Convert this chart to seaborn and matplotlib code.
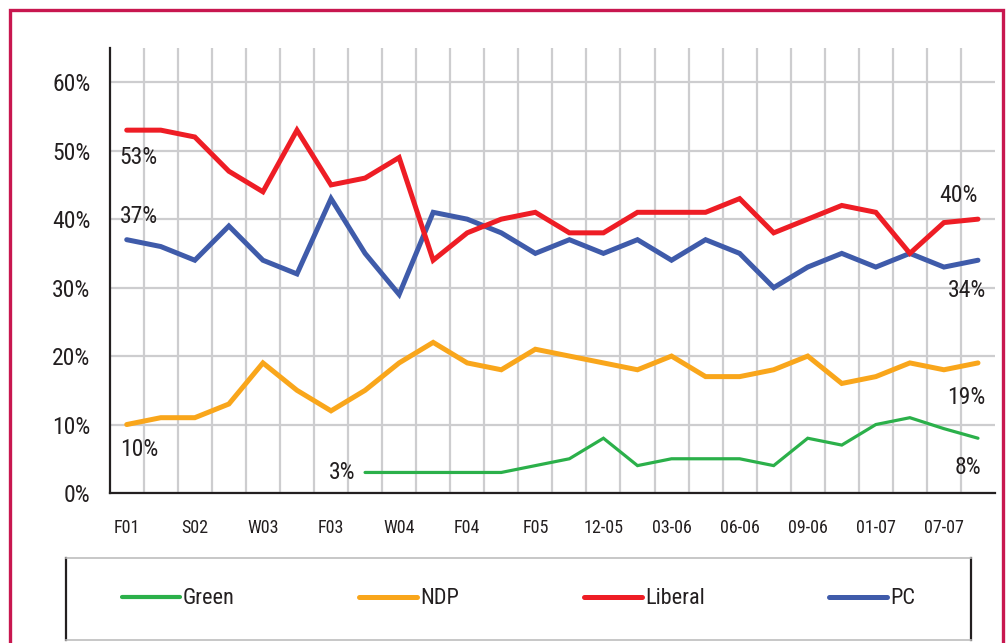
import numpy as np
import pandas as pd
import matplotlib
matplotlib.use("Agg")
import matplotlib.pyplot as plt
import seaborn as sns
from matplotlib.lines import Line2D
from matplotlib.patches import Rectangle

# ---- data ----
periods = ["F01", "", "S02", "", "W03", "", "F03", "", "W04", "", "F04", "", "F05", "",
           "12-05", "", "03-06", "", "06-06", "", "09-06", "", "01-07", "", "07-07", ""]
liberal = [53, 53, 52, 47, 44, 53, 45, 46, 49, 34, 38, 40, 41, 38, 38, 41, 41, 41, 43, 38, 40, 42, 41, 35, 39.5, 40]
pc      = [37, 36, 34, 39, 34, 32, 43, 35, 29, 41, 40, 38, 35, 37, 35, 37, 34, 37, 35, 30, 33, 35, 33, 35, 33, 34]
ndp     = [10, 11, 11, 13, 19, 15, 12, 15, 19, 22, 19, 18, 21, 20, 19, 18, 20, 17, 17, 18, 20, 16, 17, 19, 18, 19]
green   = [np.nan]*7 + [3, 3, 3, 3, 3, 4, 5, 8, 4, 5, 5, 5, 4, 8, 7, 10, 11, 9.4, 8]
yticks = [0, 10, 20, 30, 40, 50, 60]

series = {"Green": green, "NDP": ndp, "Liberal": liberal, "PC": pc}
colors = {"Green": "#2BB04A", "NDP": "#F9A61B", "Liberal": "#EE1D25", "PC": "#3F5BAA"}
widths = {"Green": 2.3, "NDP": 3.6, "Liberal": 3.6, "PC": 3.6}

rows = []
for name, vals in series.items():
    for i, v in enumerate(vals):
        rows.append({"idx": i, "party": name, "value": v})
df = pd.DataFrame(rows)

sns.set_theme(style="white")
plt.rcParams["font.family"] = ["Roboto Condensed", "Roboto", "DejaVu Sans"]

fig = plt.figure(figsize=(10.08, 6.43), dpi=100)
ax = fig.add_axes([109.7/1008, 1 - 493/643, (995 - 109.7)/1008, (493 - 48)/643])

for name in ["NDP", "Green", "PC", "Liberal"]:
    sub = df[df["party"] == name].dropna()
    sns.lineplot(data=sub, x="idx", y="value", ax=ax, color=colors[name],
                 linewidth=widths[name], solid_joinstyle="miter", solid_capstyle="round",
                 legend=False, zorder=3)

n = len(periods)
ax.set_xlim(-0.5, n - 0.5)
ax.set_ylim(0, 65)
ax.set_yticks(yticks)
ax.set_yticklabels([f"{v}%" for v in yticks])
ax.set_xticks(range(0, n, 2))
ax.set_xticklabels([periods[i] for i in range(0, n, 2)])
ax.set_xticks(np.arange(0.5, n - 1, 1), minor=True)
ax.grid(False)
ax.yaxis.grid(True, color="#CDCDCF", linewidth=1.6, zorder=0)
ax.xaxis.grid(True, which="minor", color="#CDCDCF", linewidth=1.6, zorder=0)
ax.set_axisbelow(True)
ax.tick_params(axis="y", length=0, pad=14, labelsize=17, labelcolor="#231F20")
ax.tick_params(axis="x", which="both", length=0, pad=19, labelsize=13, labelcolor="#231F20")
ax.set_xlabel("")
ax.set_ylabel("")
for s in ["top", "right"]:
    ax.spines[s].set_visible(False)
for s in ["left", "bottom"]:
    ax.spines[s].set_color("#231F20")
    ax.spines[s].set_linewidth(1.6)

# data labels
lab_kw = dict(textcoords="offset points", fontsize=17, color="#231F20", va="center")
last = n - 1
ax.annotate(f"{liberal[0]}%", xy=(0, liberal[0]), xytext=(-5, -20), ha="left", **lab_kw)
ax.annotate(f"{pc[0]}%", xy=(0, pc[0]), xytext=(-5, 17), ha="left", **lab_kw)
ax.annotate(f"{ndp[0]}%", xy=(0, ndp[0]), xytext=(-5, -18), ha="left", **lab_kw)
ax.annotate(f"{green[7]}%", xy=(7, green[7]), xytext=(-7, 0), ha="right", **lab_kw)
ax.annotate(f"{liberal[last]:.0f}%", xy=(last, liberal[last]), xytext=(0, 17), ha="right", **lab_kw)
ax.annotate(f"{pc[last]}%", xy=(last, pc[last]), xytext=(6, -22), ha="right", **lab_kw)
ax.annotate(f"{ndp[last]}%", xy=(last, ndp[last]), xytext=(5, -25), ha="right", **lab_kw)
ax.annotate(f"{green[last]}%", xy=(last, green[last]), xytext=(2, -21), ha="right", **lab_kw)

# legend box
lax = fig.add_axes([66/1008, 1 - 640/643, (971 - 66)/1008, (640 - 558)/643])
lax.set_xticks([]); lax.set_yticks([])
lax.set_facecolor("white")
for s in ["top", "bottom"]:
    lax.spines[s].set_color("#BDBDBD"); lax.spines[s].set_linewidth(1.2)
for s in ["left", "right"]:
    lax.spines[s].set_color("#231F20"); lax.spines[s].set_linewidth(1.6)
handles = [Line2D([0], [0], color=colors[k], linewidth=3.6 if k != "Green" else 3.0,
                  solid_capstyle="round") for k in series]
lax.legend(handles, list(series.keys()), ncol=4, loc="center", frameon=False,
           fontsize=16, handlelength=2.6, handletextpad=0.15, columnspacing=5.6,
           labelcolor="#231F20")

# outer crimson frame
fig.patches.append(Rectangle((10/1008, -0.05), (1003 - 10)/1008, 1 - 10/643 + 0.05,
                             transform=fig.transFigure, fill=False,
                             edgecolor="#C8174F", linewidth=2.4))

fig.savefig("out.png", dpi=100, facecolor="white")
